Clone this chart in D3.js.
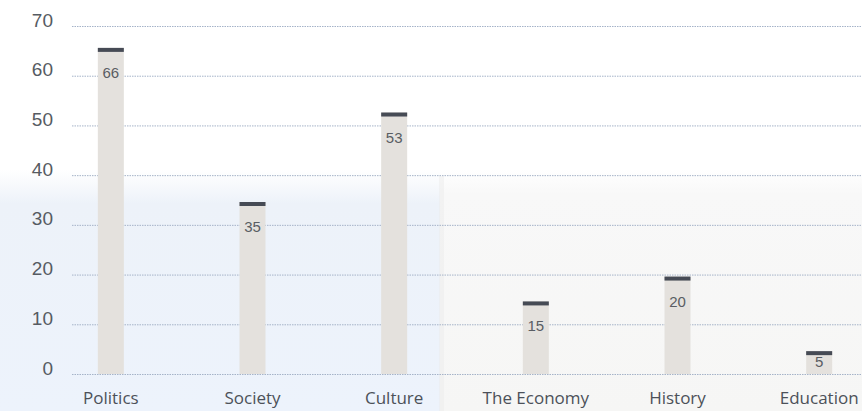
<!DOCTYPE html>
<html>
<head>
<meta charset="utf-8">
<script src="https://cdn.jsdelivr.net/npm/d3@7"></script>
<style>
  html, body { margin: 0; padding: 0; background: #fff; }
  svg { display: block; }
</style>
</head>
<body>
<div id="chart"></div>
<script>
// chart data
const categories = ["Politics", "Society", "Culture", "The Economy", "History", "Education"]
const values = [66, 35, 53, 15, 20, 5]
const yTicks = [0, 10, 20, 30, 40, 50, 60, 70]

const svgWidth = 862
const svgHeight = 411
const margin = {top: 26, left: 72, bottom: 37}

function translate(x, y) { return `translate(${x}, ${y})` }

const svg = d3.select("#chart").append("svg")
    .attr("width", svgWidth).attr("height", svgHeight)

// faded photo-like backdrop
const defs = svg.append("defs")
const gLeft = defs.append("linearGradient").attr("id", "bgLeft").attr("x1", 0).attr("x2", 0).attr("y1", 0).attr("y2", 1)
gLeft.append("stop").attr("offset", "0%").attr("stop-color", "#ffffff")
gLeft.append("stop").attr("offset", "14%").attr("stop-color", "#edf2f9")
gLeft.append("stop").attr("offset", "100%").attr("stop-color", "#edf3fc")
const gRight = defs.append("linearGradient").attr("id", "bgRight").attr("x1", 0).attr("x2", 0).attr("y1", 0).attr("y2", 1)
gRight.append("stop").attr("offset", "0%").attr("stop-color", "#ffffff")
gRight.append("stop").attr("offset", "10%").attr("stop-color", "#f8f8f8")
gRight.append("stop").attr("offset", "100%").attr("stop-color", "#f6f6f5")

svg.append("rect").attr("x", 0).attr("y", 0).attr("width", svgWidth).attr("height", svgHeight).attr("fill", "#ffffff")
svg.append("rect").attr("x", 0).attr("y", 170).attr("width", 440).attr("height", svgHeight - 170).attr("fill", "url(#bgLeft)")
svg.append("rect").attr("x", 440).attr("y", 170).attr("width", svgWidth - 440).attr("height", svgHeight - 170).attr("fill", "url(#bgRight)")
svg.append("rect").attr("x", 439).attr("y", 176).attr("width", 5).attr("height", svgHeight - 176).attr("fill", "#ebebec").attr("opacity", 0.5)

const x = d3.scaleBand().domain(categories).range([40, 890]).padding(0)
const y = d3.scaleLinear().domain([0, 70]).range([svgHeight - margin.bottom, margin.top])

// y axis + gridlines
const yAxis = d3.axisLeft(y).tickValues(yTicks).tickSize(-(svgWidth - margin.left)).tickPadding(19)
const yArea = svg.append("g").attr("id", "yArea").attr("transform", translate(margin.left, 0)).call(yAxis)
yArea.select(".domain").remove()
yArea.selectAll(".tick line")
    .attr("stroke", "#a5b3c8")
    .attr("stroke-dasharray", "1.5,1")
yArea.selectAll(".tick text")
    .attr("dy", 0)
    .attr("fill", "#565b62")
    .style("font-family", "'Liberation Sans', Arial, sans-serif")
    .style("font-size", "19px")

// x axis labels
const xAxis = d3.axisBottom(x).tickSize(0).tickPadding(0)
const xArea = svg.append("g").attr("id", "xArea").attr("transform", translate(0, y(0))).call(xAxis)
xArea.select(".domain").remove()
xArea.selectAll(".tick text")
    .attr("dy", 0)
    .attr("y", 30)
    .attr("fill", "#4c5159")
    .style("font-family", "'Open Sans', 'Noto Sans', sans-serif")
    .style("font-size", "17px")

// bars
const barW = 26
const data = categories.map((c, i) => ({kind: c, val: values[i]}))
const cx = d => x(d.kind) + x.bandwidth() / 2
const capTop = d => y(d.val) + 2

const barArea = svg.append("g").attr("id", "barArea")
barArea.selectAll("rect.bar").data(data).enter().append("rect")
    .attr("class", "bar")
    .attr("x", d => cx(d) - barW / 2)
    .attr("y", d => capTop(d))
    .attr("width", barW)
    .attr("height", d => y(0) - capTop(d))
    .attr("fill", "#e4e1dd")
barArea.selectAll("rect.cap").data(data).enter().append("rect")
    .attr("class", "cap")
    .attr("x", d => cx(d) - barW / 2)
    .attr("y", d => capTop(d))
    .attr("width", barW)
    .attr("height", 4)
    .attr("fill", "#464b55")
barArea.selectAll("text").data(data).enter().append("text")
    .attr("x", d => cx(d))
    .attr("y", d => Math.min(capTop(d) + 30, y(0) - 7))
    .attr("text-anchor", "middle")
    .attr("fill", "#595d63")
    .style("font-family", "'Liberation Sans', Arial, sans-serif")
    .style("font-size", "15px")
    .text(d => d.val)
</script>
</body>
</html>
